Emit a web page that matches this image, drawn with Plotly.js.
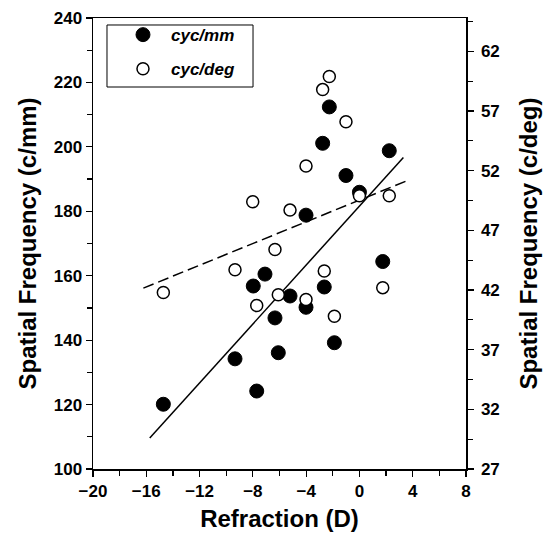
<!DOCTYPE html>
<html>
<head>
<meta charset="utf-8">
<script src="https://cdn.plot.ly/plotly-3.0.1.min.js"></script>
<style>html,body{margin:0;padding:0;background:#fff;}#chart{width:544px;height:536px;}</style>
</head>
<body>
<div id="chart"></div>
<script>
// cyc/mm (filled circles, left axis)
const refrMM = [-14.72, -9.34, -7.97, -7.09, -7.71, -6.34, -6.09, -5.21, -4.01, -4.01, -2.64, -1.88, -2.76, -2.26, -1.01, 0.0, 2.24, 1.75];
const cycMM  = [120.1, 134.2, 156.8, 160.5, 124.2, 146.9, 136.1, 153.7, 178.8, 150.2, 156.5, 139.2, 201.1, 212.4, 191.1, 185.9, 198.8, 164.4];
// cyc/deg (open circles, right axis)
const refrDEG = [-14.72, -9.34, -8.01, -7.71, -6.34, -6.09, -5.21, -4.01, -4.01, -2.64, -1.88, -2.76, -2.26, -1.01, 0.0, 2.24, 1.75];
const cycDEG  = [41.8, 43.7, 49.4, 40.7, 45.4, 41.6, 48.7, 41.2, 52.4, 43.6, 39.8, 58.8, 59.9, 56.1, 49.9, 49.9, 42.2];
// regression lines
const fitMMx = [-15.74, 3.30];
const fitMMy = [109.6, 196.7];
const fitDEGx = [-16.22, 3.55];
const fitDEGy = [42.16, 51.15];

const FONT = 'Arial, "Liberation Sans", sans-serif';

const traces = [
  {x: fitMMx, y: fitMMy, mode: 'lines', line: {color: 'black', width: 1.5}, showlegend: false, hoverinfo: 'skip'},
  {x: fitDEGx, y: fitDEGy, yaxis: 'y2', mode: 'lines', line: {color: 'black', width: 1.5, dash: '11px,5px'}, showlegend: false, hoverinfo: 'skip'},
  {x: refrMM, y: cycMM, mode: 'markers', name: 'cyc/mm', legendgroup: 'a',
   marker: {symbol: 'circle', size: 14, color: 'black', line: {color: 'black', width: 1}}},
  {x: refrDEG, y: cycDEG, yaxis: 'y2', mode: 'markers', name: 'cyc/deg', legendgroup: 'b',
   marker: {symbol: 'circle', size: 12, color: 'white', line: {color: 'black', width: 1.5}}}
];

const tickFont = {family: FONT, size: 17, color: 'black', weight: 'bold'};
const titleFont = {family: FONT, size: 24, color: 'black', weight: 'bold'};

const layout = {
  width: 544, height: 536,
  margin: {l: 93, r: 78, t: 18, b: 67},
  paper_bgcolor: 'white', plot_bgcolor: 'white',
  showlegend: true,
  legend: {
    x: 0.0375, y: 1.002, xanchor: 'left', yanchor: 'top',
    borderwidth: 0, bgcolor: 'rgba(0,0,0,0)',
    font: {family: FONT, size: 17, color: 'black', weight: 'bold', style: 'italic'},
    traceorder: 'grouped', tracegroupgap: 9,
    indentation: 8, itemwidth: 46
  },
  shapes: [
    {type: 'rect', xref: 'paper', yref: 'paper', x0: 0.0375, x1: 0.429, y0: 0.847, y1: 0.9845,
     line: {color: 'black', width: 1}, fillcolor: 'rgba(0,0,0,0)', layer: 'above'}
  ],
  xaxis: {
    range: [-20, 8], tick0: -20, dtick: 4, ticks: 'outside', ticklen: 6, tickwidth: 1.2, tickcolor: 'black',
    minor: {dtick: 2, tick0: -20, ticks: 'outside', ticklen: 5, tickcolor: 'black', showgrid: false},
    showgrid: false, zeroline: false, showline: true, linecolor: 'black', linewidth: 1.5, mirror: true,
    tickfont: tickFont,
    title: {text: 'Refraction (D)', font: titleFont, standoff: 10}
  },
  yaxis: {
    range: [100, 240], tick0: 100, dtick: 20, ticks: 'outside', ticklen: 6, tickwidth: 1.2, tickcolor: 'black',
    minor: {dtick: 10, tick0: 100, ticks: 'outside', ticklen: 5, tickcolor: 'black', showgrid: false},
    showgrid: false, zeroline: false, showline: true, linecolor: 'black', linewidth: 1.5,
    tickfont: tickFont,
    title: {text: 'Spatial Frequency (c/mm)', font: titleFont, standoff: 10}
  },
  yaxis2: {
    overlaying: 'y', side: 'right',
    range: [27, 64.8], tick0: 27, dtick: 5, ticks: 'outside', ticklen: 6, tickwidth: 1.2, tickcolor: 'black',
    minor: {dtick: 2.5, tick0: 27, ticks: 'outside', ticklen: 5, tickcolor: 'black', showgrid: false},
    showgrid: false, zeroline: false, showline: true, linecolor: 'black', linewidth: 1.5,
    tickfont: tickFont, ticklabelstandoff: 4,
    title: {text: 'Spatial Frequency (c/deg)', font: titleFont, standoff: 21}
  }
};

Plotly.newPlot('chart', traces, layout, {displayModeBar: false, staticPlot: true});
</script>
</body>
</html>
